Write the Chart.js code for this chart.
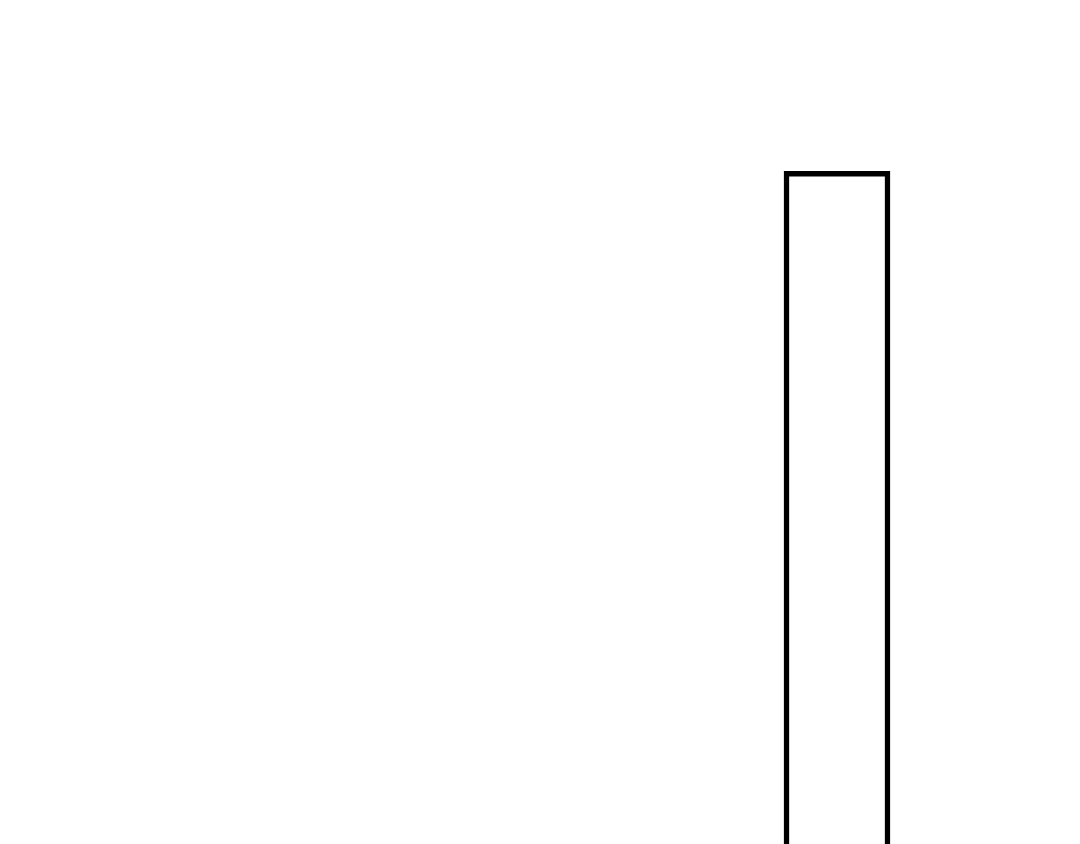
<!DOCTYPE html>
<html>
<head>
<meta charset="utf-8">
<script src="https://cdn.jsdelivr.net/npm/chart.js"></script>
<style>
  html, body { margin: 0; padding: 0; background: #fff; overflow: hidden; }
  #wrap { width: 1080px; height: 844px; }
</style>
</head>
<body>
<div id="wrap"><canvas id="c"></canvas></div>
<script>
// Datos: una sola barra, sin ejes visibles
const categories = [''];
const values = [79.7];
const yMax = 100;

new Chart(document.getElementById('c'), {
  type: 'bar',
  data: {
    labels: categories,
    datasets: [{
      data: values,
      backgroundColor: '#ffffff',
      borderColor: '#000000',
      borderWidth: 5.5,
      barThickness: 106,
      borderSkipped: 'start'
    }]
  },
  options: {
    responsive: true,
    maintainAspectRatio: false,
    animation: false,
    layout: { padding: { left: 594, right: 0, top: 0, bottom: 0 } },
    plugins: { legend: { display: false }, tooltip: { enabled: false } },
    scales: {
      x: { display: false },
      y: { display: false, min: 0, max: yMax }
    }
  }
});
</script>
</body>
</html>
